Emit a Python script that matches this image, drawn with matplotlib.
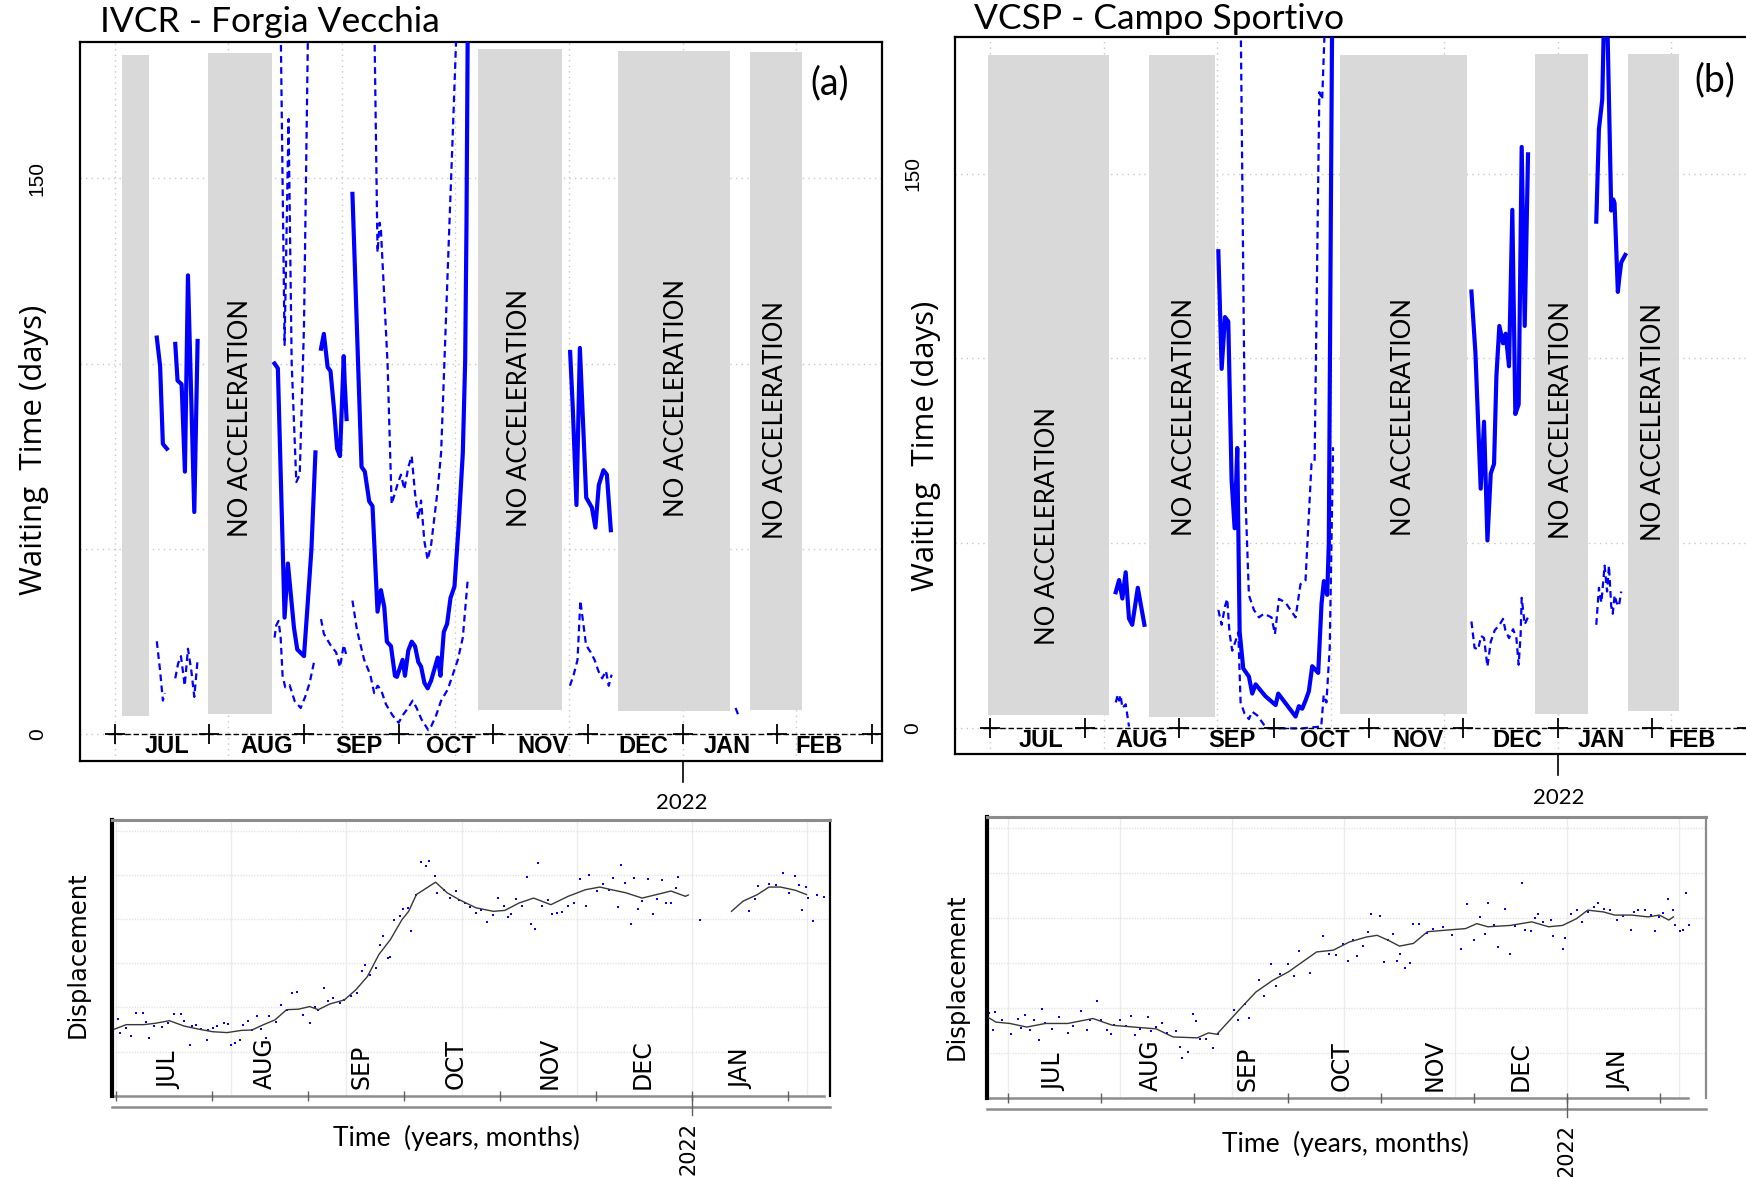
import matplotlib
matplotlib.use("Agg")
import matplotlib.pyplot as plt
from matplotlib.patches import Rectangle

# x is in months counted from 1 Jul 2021 (1 Jan 2022 = 6)
month_ticks = [0, 1, 2, 3, 4, 5, 6, 7, 8]
top_months = ['JUL', 'AUG', 'SEP', 'OCT', 'NOV', 'DEC', 'JAN', 'FEB']
bottom_months = ['JUL', 'AUG', 'SEP', 'OCT', 'NOV', 'DEC', 'JAN']
grid_x = [0, 1.2, 2.4, 3.6, 4.8, 6.0, 7.2]          # 0.1-year grid
grid_y = [0, 50, 100, 150]

# ---------------- (a) IVCR - Forgia Vecchia : waiting time ----------------
a_boxes = [(0.079, 0.36, 4.8, 183.2), (0.987, 1.657, 5.4, 183.7),
           (3.836, 4.727, 6.5, 184.8), (5.315, 6.503, 6.2, 184.5),
           (6.709, 7.261, 6.5, 184.0)]
a_box_text = [(1.333, 85.3), (4.273, 88.0), (5.939, 90.7), (6.982, 84.7)]
a_solid = [
    ([0.445, 0.480, 0.509, 0.551], [107.0, 99.3, 78.3, 77.0]),
    ([0.640, 0.664, 0.707, 0.742, 0.774, 0.841, 0.876],
     [105.3, 95.4, 94.4, 70.8, 123.8, 59.9, 106.1]),
    ([1.689, 1.724, 1.795, 1.830, 1.894, 1.929, 2.0, 2.036, 2.079, 2.121],
     [100.0, 98.7, 31.4, 46.0, 28.7, 22.8, 21.0, 34.0, 50.0, 76.0]),
    ([2.18, 2.21, 2.25, 2.28, 2.32, 2.35, 2.38, 2.42, 2.43, 2.45],
     [104, 108, 99, 98, 87, 77, 75, 102, 95, 85]),
    ([2.512, 2.608, 2.643, 2.689, 2.724, 2.777, 2.813, 2.848, 2.876, 2.919, 2.961,
      2.982, 3.042, 3.067, 3.102, 3.138, 3.173, 3.208, 3.237, 3.272, 3.307, 3.343,
      3.413, 3.442, 3.477, 3.512, 3.548, 3.590, 3.633, 3.678, 3.703, 3.717, 3.731],
     [145.8, 72.1, 70.8, 62.8, 61.5, 33.0, 38.8, 34.3, 24.9, 23.7, 15.7,
      15.4, 20.0, 15.7, 22.5, 24.9, 23.7, 19.4, 18.2, 13.8, 12.3, 14.4,
      20.6, 15.7, 27.5, 29.7, 36.7, 39.8, 55.9, 75.8, 100.6, 137.7, 195]),
    ([4.812, 4.84, 4.879, 4.915, 4.982, 5.042, 5.079, 5.115, 5.164, 5.20, 5.242],
     [103.1, 88, 61.8, 104.2, 63.8, 61.1, 55.7, 67.2, 71.2, 70, 55.0]),
]
a_upper = [
    ([1.752, 1.795, 1.837, 1.87, 1.919, 1.955, 2.0, 2.045],
     [195, 105, 166, 100, 68, 70, 110, 195]),
    ([2.742, 2.777, 2.80, 2.813, 2.883, 2.926, 2.996, 3.025, 3.06, 3.102, 3.138,
      3.173, 3.208, 3.237, 3.272, 3.307, 3.343, 3.413, 3.449, 3.537, 3.572, 3.618],
     [195, 130, 138, 136, 100, 62, 68, 70, 66, 72, 75,
      65, 58, 63, 52, 47, 51, 66, 76, 138, 162, 195]),
]
a_lower = [
    ([0.445, 0.48, 0.509, 0.53], [25, 17, 9, 11]),
    ([0.64, 0.67, 0.70, 0.74, 0.774, 0.81, 0.841, 0.876], [15, 19, 21, 13, 23, 17, 10, 20]),
    ([1.689, 1.707, 1.731, 1.753, 1.774, 1.802, 1.848, 1.901, 1.965, 2.014, 2.060, 2.106, 2.121],
     [26, 29.3, 30.5, 26.2, 15.7, 12.6, 13.2, 8.9, 7.0, 10.1, 13.8, 19.4, 20]),
    ([2.18, 2.21, 2.28, 2.34, 2.38, 2.42, 2.45], [31, 27, 24, 22, 18, 24, 21]),
    ([2.512, 2.56, 2.636, 2.70, 2.742, 2.777, 2.813, 2.866, 2.936, 3.0, 3.042, 3.10,
      3.148, 3.19, 3.24, 3.314, 3.343, 3.396, 3.449, 3.519, 3.572, 3.625, 3.678, 3.731],
     [36, 28, 20, 16, 11, 13, 12, 8, 5, 3, 5, 7, 9, 7, 4, 1, 2, 5, 9, 12, 16, 20, 26, 42]),
    ([4.81, 4.85, 4.89, 4.92, 4.95, 4.98, 5.03, 5.07, 5.11, 5.15, 5.19, 5.22, 5.25],
     [13, 16, 20, 36, 30, 24, 22, 20, 17, 15, 17, 13, 16]),
    ([6.56, 6.59], [7, 5]),
]
a_label_x = [0.553, 1.61, 2.58, 3.55, 4.53, 5.59, 6.47, 7.44]

# ---------------- (b) VCSP - Campo Sportivo : waiting time ----------------
b_boxes = [(-0.023, 1.259, 3.5, 182.1), (1.684, 2.378, 3.2, 182.0),
           (3.703, 5.045, 3.8, 182.1), (5.762, 6.318, 3.8, 182.3),
           (6.740, 7.284, 4.7, 182.3)]
b_box_text = [(0.612, 54.6), (2.057, 84.1), (4.371, 84.1), (6.04, 83.5), (7.01, 82.8)]
b_solid = [
    ([1.329, 1.364, 1.399, 1.434, 1.469, 1.503, 1.562, 1.632],
     [36.8, 40.1, 35.1, 42.2, 29.7, 28.0, 38.0, 28.0]),
    ([2.413, 2.448, 2.483, 2.518, 2.553, 2.585, 2.613, 2.638, 2.676, 2.736, 2.771,
      2.807, 2.91, 3.018, 3.046, 3.229, 3.264, 3.299, 3.334, 3.369, 3.405, 3.468,
      3.503, 3.528, 3.563, 3.580, 3.598, 3.616],
     [129.0, 97.2, 111.2, 110.0, 67.1, 54.1, 75.8, 26.1, 16.2, 14.0, 9.4,
      11.9, 8.7, 6.3, 9.4, 3.2, 6.0, 5.3, 7.5, 10.0, 16.8, 15.0,
      33.6, 39.8, 36.1, 49.8, 124.3, 195]),
    ([5.087, 5.129, 5.185, 5.220, 5.256, 5.291, 5.326, 5.351, 5.382, 5.421, 5.449,
      5.484, 5.519, 5.551, 5.586, 5.618, 5.650, 5.685],
     [118.1, 101.6, 64.8, 82.9, 50.8, 68.9, 71.5, 95.3, 108.8, 104.1, 106.7,
      97.9, 140.2, 85.0, 87.6, 157.2, 108.8, 155.2]),
    ([6.406, 6.434, 6.469, 6.49, 6.52, 6.564, 6.585, 6.599, 6.634, 6.65, 6.670, 6.712],
     [137, 162, 170, 195, 195, 140, 143, 142, 118, 122, 126, 128]),
]
b_upper = [
    ([2.648, 2.70, 2.736, 2.789, 2.842, 2.894, 2.975, 3.011, 3.053, 3.123, 3.229,
      3.281, 3.334, 3.397, 3.43, 3.48, 3.51, 3.545],
     [195, 62, 36, 32, 30, 31, 30, 25.5, 35, 34, 30,
      39, 40, 71.5, 72, 172, 170, 195]),
]
b_lower = [
    ([1.329, 1.35, 1.364, 1.38, 1.399, 1.434, 1.469], [7, 9, 7.5, 9, 5.5, 6.5, 0.5]),
    ([2.413, 2.448, 2.483, 2.507, 2.53, 2.56, 2.60, 2.624, 2.648, 2.69, 2.736, 2.77,
      2.824, 2.894, 2.95, 3.3, 3.50, 3.526, 3.555, 3.59, 3.625],
     [32, 28, 33, 35, 26, 21, 24, 26, 7, 4, 2.5, 4.5, 3.5, 1, 0, 0, 0.5, 9, 7, 22, 76]),
    ([5.087, 5.12, 5.157, 5.19, 5.220, 5.256, 5.291, 5.333, 5.386, 5.421, 5.446,
      5.484, 5.527, 5.562, 5.586, 5.607, 5.618, 5.650, 5.685],
     [28.9, 21.8, 21.3, 25, 24.4, 16.7, 23.4, 26.5, 28.1, 29.6, 26.5,
      24.4, 26.8, 24.4, 17.2, 25.5, 35.3, 28.1, 30.1]),
    ([6.406, 6.434, 6.46, 6.494, 6.52, 6.54, 6.564, 6.58, 6.60, 6.62, 6.645, 6.67],
     [28, 38, 34, 44, 37, 44, 33, 31, 36, 34, 33, 37]),
]
b_label_x = [0.54, 1.6, 2.56, 3.54, 4.52, 5.57, 6.46, 7.42]

# ---------------- displacement (arbitrary units, grid step = 1) ----------------
c_line = [
    ([-0.01, 0.11, 0.29, 0.41, 0.56, 0.71, 0.86, 1.01, 1.16, 1.31, 1.42, 1.54, 1.66, 1.78,
      1.90, 2.02, 2.11, 2.23, 2.38, 2.50, 2.62, 2.74, 2.86, 2.98, 3.05, 3.13, 3.33, 3.45,
      3.57, 3.75, 3.93, 4.05, 4.20, 4.35, 4.53, 4.71, 4.89, 5.04, 5.16, 5.31, 5.48, 5.63,
      5.78, 5.93, 5.96],
     [0.51, 0.61, 0.61, 0.64, 0.70, 0.58, 0.51, 0.45, 0.43, 0.48, 0.49, 0.61, 0.72, 0.95,
      0.96, 1.02, 0.95, 1.08, 1.17, 1.40, 1.70, 2.20, 2.54, 2.99, 3.18, 3.56, 3.84, 3.60,
      3.45, 3.26, 3.18, 3.20, 3.37, 3.48, 3.33, 3.52, 3.67, 3.73, 3.67, 3.60, 3.48, 3.56,
      3.64, 3.52, 3.55]),
    ([6.41, 6.53, 6.68, 6.80, 6.92, 7.07, 7.19], [3.18, 3.41, 3.56, 3.73, 3.73, 3.66, 3.56]),
]
c_pts_x = [0.02, 0.05, 0.11, 0.16, 0.21, 0.28, 0.32, 0.35, 0.40, 0.48, 0.55, 0.61, 0.68, 0.71,
           0.77, 0.80, 0.84, 0.89, 0.95, 0.96, 1.01, 1.05, 1.13, 1.17, 1.20, 1.24, 1.29, 1.33,
           1.38, 1.42, 1.47, 1.51, 1.57, 1.60, 1.67, 1.72, 1.78, 1.84, 1.89, 1.95, 2.02, 2.07,
           2.11, 2.17, 2.21, 2.26, 2.34, 2.38, 2.45, 2.51, 2.56, 2.60, 2.65, 2.71, 2.75, 2.78,
           2.83, 2.86, 2.90, 2.96, 2.99, 3.04, 3.07, 3.13, 3.18, 3.26, 3.23, 3.32, 3.35, 3.42,
           3.48, 3.54, 3.57, 3.64, 3.69, 3.75, 3.80, 3.87, 3.93, 3.98, 4.04, 4.08, 4.11, 4.17,
           4.23, 4.28, 4.32, 4.36, 4.40, 4.44, 4.50, 4.54, 4.59, 4.65, 4.71, 4.77, 4.83, 4.90,
           4.93, 5.01, 5.07, 5.13, 5.18, 5.23, 5.26, 5.30, 5.36, 5.40, 5.44, 5.48, 5.54, 5.59,
           5.63, 5.69, 5.73, 5.78, 5.83, 5.85, 6.08, 6.59, 6.65, 6.69, 6.80, 6.87, 6.95, 7.01,
           7.07, 7.11, 7.14, 7.18, 7.21, 7.26, 7.30, 7.37]
c_pts_y = [0.73, 0.42, 0.53, 0.36, 0.87, 0.87, 0.66, 0.30, 0.58, 0.55, 0.64, 0.86, 0.86, 0.69,
           0.14, 0.57, 0.61, 0.51, 0.27, 0.48, 0.53, 0.58, 0.64, 0.63, 0.14, 0.19, 0.27, 0.61,
           0.70, 0.49, 0.81, 0.51, 0.30, 0.80, 0.68, 1.06, 0.95, 1.33, 1.36, 0.83, 0.64, 1.02,
           0.95, 1.44, 1.14, 1.21, 1.11, 1.16, 1.25, 1.33, 1.82, 1.97, 1.74, 1.89, 2.42, 2.63,
           2.12, 2.14, 2.98, 3.07, 3.23, 3.26, 2.73, 3.56, 4.30, 4.32, 4.20, 3.98, 3.60, 3.67,
           3.48, 3.64, 3.43, 3.37, 3.28, 3.14, 3.20, 2.93, 3.09, 3.48, 3.30, 3.05, 3.12, 3.47,
           3.31, 3.96, 2.90, 2.78, 4.27, 3.31, 3.43, 3.12, 3.14, 3.17, 3.31, 3.37, 3.92, 3.31,
           4.01, 3.64, 3.81, 3.67, 3.94, 3.27, 4.24, 3.83, 2.90, 3.94, 3.23, 3.41, 3.92, 3.11,
           3.46, 3.90, 3.37, 3.36, 3.71, 3.95, 2.98, 3.18, 3.46, 3.75, 3.81, 3.77, 4.04, 3.60,
           3.99, 3.77, 3.22, 3.73, 3.48, 2.95, 3.56, 3.50]
c_label_x = [0.56, 1.555, 2.56, 3.54, 4.52, 5.48, 6.51]

d_line = [
    ([-0.21, -0.13, 0.02, 0.20, 0.40, 0.64, 0.91, 1.12, 1.35, 1.59, 1.77, 2.03, 2.15, 2.24,
      2.36, 2.51, 2.66, 2.84, 3.01, 3.16, 3.31, 3.49, 3.66, 3.84, 3.96, 4.08, 4.20, 4.35,
      4.50, 4.67, 4.91, 5.03, 5.15, 5.39, 5.62, 5.80, 5.95, 6.10, 6.22, 6.39, 6.51, 6.69,
      6.87, 6.99, 7.09, 7.14],
     [0.78, 0.68, 0.65, 0.57, 0.65, 0.65, 0.76, 0.61, 0.57, 0.53, 0.35, 0.33, 0.44, 0.41,
      0.68, 1.02, 1.35, 1.61, 1.80, 2.02, 2.24, 2.28, 2.46, 2.57, 2.61, 2.50, 2.37, 2.43,
      2.69, 2.72, 2.76, 2.87, 2.80, 2.83, 2.91, 2.80, 2.83, 2.98, 3.17, 3.13, 3.06, 3.06,
      3.02, 3.06, 2.95, 3.02]),
]
d_pts_x = [-0.20, -0.14, -0.16, -0.07, 0.03, 0.11, 0.14, 0.18, 0.23, 0.28, 0.33, 0.36, 0.40,
           0.47, 0.55, 0.64, 0.70, 0.78, 0.85, 0.88, 0.95, 1.00, 1.06, 1.10, 1.14, 1.20, 1.26,
           1.32, 1.36, 1.42, 1.50, 1.53, 1.59, 1.65, 1.71, 1.80, 1.84, 1.87, 1.93, 1.98, 2.02,
           2.06, 2.12, 2.20, 2.25, 2.42, 2.47, 2.54, 2.59, 2.69, 2.75, 2.82, 2.88, 2.92, 3.00,
           3.07, 3.12, 3.24, 3.38, 3.44, 3.52, 3.59, 3.65, 3.70, 3.74, 3.81, 3.86, 3.90, 3.99,
           4.03, 4.08, 4.13, 4.17, 4.21, 4.26, 4.31, 4.35, 4.41, 4.50, 4.56, 4.67, 4.76, 4.86,
           4.92, 5.00, 5.06, 5.12, 5.15, 5.21, 5.26, 5.33, 5.39, 5.44, 5.52, 5.55, 5.61, 5.65,
           5.69, 5.74, 5.83, 5.85, 5.95, 5.98, 6.04, 6.11, 6.16, 6.22, 6.29, 6.33, 6.39, 6.46,
           6.54, 6.60, 6.68, 6.72, 6.76, 6.84, 6.90, 6.94, 6.99, 7.03, 7.08, 7.14, 7.16, 7.21,
           7.24, 7.27, 7.31]
d_pts_y = [0.88, 0.91, 0.51, 0.73, 0.42, 0.76, 0.56, 0.83, 0.51, 0.73, 0.29, 0.98, 0.66,
           0.53, 0.79, 0.44, 0.59, 0.92, 0.50, 0.73, 1.16, 0.72, 0.50, 0.41, 0.61, 0.73, 0.59,
           0.81, 0.39, 0.53, 0.79, 0.48, 0.57, 0.65, 0.44, 0.48, 0.13, -0.11, 0.01, 0.87, 0.70,
           0.31, 0.31, 0.11, 0.42, 0.94, 0.73, 1.08, 0.78, 1.61, 1.25, 1.98, 1.48, 1.76, 1.97,
           1.70, 2.26, 1.77, 2.59, 2.19, 2.17, 2.41, 2.04, 2.51, 2.14, 2.37, 2.69, 3.09, 3.03,
           2.02, 2.51, 2.63, 2.05, 2.19, 1.89, 2.00, 2.87, 2.87, 2.66, 2.74, 2.80, 2.61, 2.31,
           3.30, 2.51, 3.02, 2.63, 3.33, 2.83, 2.34, 3.20, 2.20, 2.81, 3.78, 2.72, 2.71, 3.00,
           3.09, 2.91, 2.95, 2.59, 2.31, 2.54, 3.09, 3.18, 2.91, 3.13, 3.24, 3.32, 3.20, 3.18,
           2.95, 3.03, 2.72, 3.13, 3.18, 3.17, 3.06, 2.70, 3.02, 3.11, 3.41, 3.18, 2.83, 2.71,
           2.72, 3.55, 2.83]
d_label_x = [0.49, 1.53, 2.57, 3.58, 4.58, 5.50, 6.56]

BLUE = '#0000ff'
GREY_BOX = '#d9d9d9'
fig = plt.figure(figsize=(17.46, 11.77), dpi=100)


def waiting_panel(rect, ylim, boxes, box_text, solid, upper, lower, label_x,
                  ylab_x, ylab_y):
    ax = fig.add_axes(rect)
    ax.set_xlim(-0.365, 8.106)
    ax.set_ylim(*ylim)
    for gx in grid_x:
        ax.axvline(gx, color='#c8c8c8', lw=1, ls=(0, (1, 3)), zorder=0)
    for gy in grid_y:
        ax.axhline(gy, color='#c8c8c8', lw=1, ls=(0, (1, 3)), zorder=0)
    for x0, x1, y0, y1 in boxes:
        ax.add_patch(Rectangle((x0, y0), x1 - x0, y1 - y0, fc=GREY_BOX, ec='none', zorder=1))
    for tx, ty in box_text:
        ax.text(tx, ty, 'NO ACCELERATION', rotation=90, ha='center', va='center',
                fontsize=18.5, family='Lato', zorder=2)
    for xs, ys in upper + lower:
        ax.plot(xs, ys, color=BLUE, lw=1.6, ls=(0, (3, 2)), zorder=3)
    for xs, ys in solid:
        ax.plot(xs, ys, color=BLUE, lw=3.0, zorder=4)
    # month axis drawn at zero
    ax.plot([-0.07, 8.07], [0, 0], color='k', lw=1, ls=(0, (4, 2)), zorder=5)
    ax.plot(month_ticks, [0] * len(month_ticks), ls='none', marker='+', ms=15,
            mew=1.3, color='k', zorder=5)
    for mx, lab in zip(label_x, top_months):
        ax.text(mx, -3.4, lab, ha='center', va='center', fontsize=17,
                fontweight='bold', family='Liberation Sans', zorder=5)
    ax.plot([6, 6], [0, -0.03], color='k', lw=1.2, clip_on=False,
            transform=ax.get_xaxis_transform())
    ax.set_xticks([])
    ax.set_yticks(grid_y)
    ax.set_yticklabels(['0', '', '', '150'], rotation=90, va='center',
                       fontsize=15, family='Liberation Sans')
    ax.tick_params(axis='y', length=0, pad=24)
    for s in ax.spines.values():
        s.set_linewidth(1.6)
    ax.text(ylab_x, ylab_y, 'Waiting  Time (days)', rotation=90, ha='center',
            va='center', fontsize=22.5, family='Open Sans', transform=ax.transAxes)
    return ax


def displacement_panel(rect, xlim, line, px, py, label_x, right_col, axis_end):
    ax = fig.add_axes(rect)
    ax.set_xlim(*xlim)
    ax.set_ylim(-1.0, 5.25)
    for gx in grid_x:
        ax.axvline(gx, color='#ececec', lw=1, zorder=0)
    for gy in range(0, 6):
        ax.axhline(gy, color='#e4e4e4', lw=1, ls=(0, (1, 1)), zorder=0)
    for xs, ys in line:
        ax.plot(xs, ys, color='#383838', lw=1.0, zorder=3)
    ax.plot(px, py, ls='none', marker='s', ms=1.9, mew=0, color=BLUE, zorder=2)
    for mx, lab in zip(label_x, bottom_months):
        ax.text(mx, -0.85, lab, rotation=90, ha='center', va='bottom', fontsize=17,
                family='DejaVu Sans')
    ax.set_yticks([])
    ax.set_xticks([])
    ax.spines['left'].set_linewidth(3)
    ax.spines['left'].set_color('k')
    ax.spines['top'].set_linewidth(2.2)
    ax.spines['top'].set_color('#8c8c8c')
    ax.spines['right'].set_linewidth(1.6)
    ax.spines['right'].set_color(right_col)
    ax.spines['bottom'].set_visible(False)
    ax.plot([xlim[0], axis_end], [-1.0, -1.0], color='#8c8c8c', lw=1.8, clip_on=False)
    ax.plot([0, 1], [-0.04, -0.04], color='#8c8c8c', lw=1.8, clip_on=False,
            transform=ax.transAxes)
    ax.plot(month_ticks[:8], [-1.0] * 8, ls='none', marker='|', ms=7, mew=1,
            color='#606060', clip_on=False)
    ax.plot([6, 6], [0, -0.07], color='#606060', lw=1, clip_on=False,
            transform=ax.get_xaxis_transform())
    return ax


waiting_panel([0.0459, 0.3538, 0.4592, 0.6102], (-7.2, 186.7), a_boxes, a_box_text,
              a_solid, a_upper, a_lower, a_label_x, -0.058, 0.433)
waiting_panel([0.5472, 0.3595, 0.4592, 0.6093], (-6.9, 187.0), b_boxes, b_box_text,
              b_solid, b_upper, b_lower, b_label_x, -0.037, 0.429)

displacement_panel([0.0644, 0.0691, 0.4107, 0.2342], (-0.033, 7.43), c_line,
                   c_pts_x, c_pts_y, c_label_x, 'k', 7.37)
displacement_panel([0.5651, 0.0674, 0.4120, 0.2388], (-0.23, 7.49), d_line,
                   d_pts_x, d_pts_y, d_label_x, '#8c8c8c', 7.3)

# titles and free labels
fig.text(0.0574, 0.981, 'IVCR - Forgia Vecchia', fontsize=25.5, family='Lato',
         ha='left', va='center')
fig.text(0.558, 0.984, 'VCSP - Campo Sportivo', fontsize=25.5, family='Lato',
         ha='left', va='center')
fig.text(0.4751, 0.929, '(a)', fontsize=27, family='Lato', ha='center', va='center')
fig.text(0.982, 0.932, '(b)', fontsize=27, family='Lato', ha='center', va='center')
for x, y in [(0.3903, 0.3179), (0.8929, 0.3217)]:
    fig.text(x, y, '2022', fontsize=16, family='Lato', ha='center', va='center')
for x, y in [(0.3945, 0.0246), (0.8973, 0.0227)]:
    fig.text(x, y, '2022', fontsize=15, family='DejaVu Sans', rotation=90,
             ha='center', va='center')
fig.text(0.2615, 0.0331, 'Time  (years, months)', fontsize=19, family='Lato',
         ha='center', va='center')
fig.text(0.7704, 0.0284, 'Time  (years, months)', fontsize=19, family='Lato',
         ha='center', va='center')
fig.text(0.0444, 0.1892, 'Displacement', fontsize=17.5, family='DejaVu Sans',
         rotation=90, ha='center', va='center')
fig.text(0.5478, 0.1703, 'Displacement', fontsize=17.5, family='DejaVu Sans',
         rotation=90, ha='center', va='center')

fig.savefig('out.png', dpi=100)
